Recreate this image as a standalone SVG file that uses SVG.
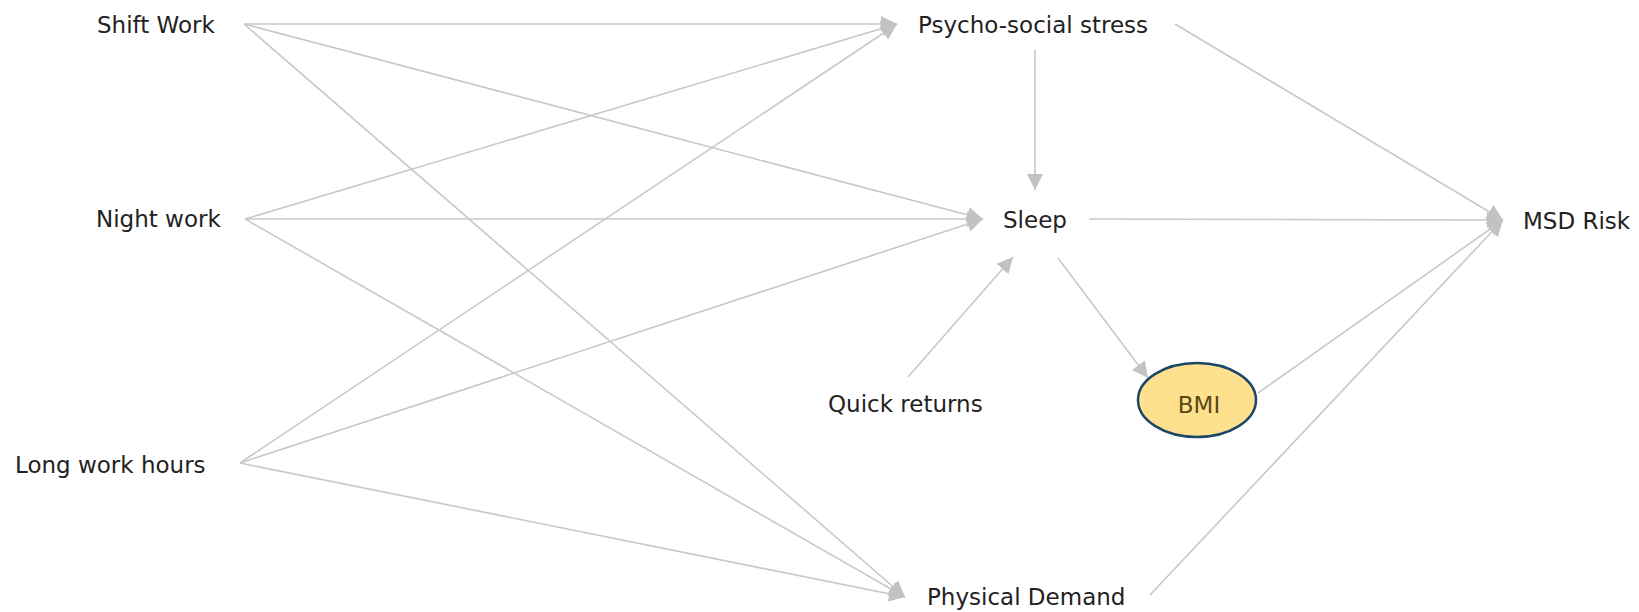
<svg xmlns="http://www.w3.org/2000/svg" width="1639" height="612" viewBox="0 0 1639 612">
<defs>
<style>
.lbl{font-family:"DejaVu Sans","Liberation Sans",sans-serif;font-size:23px;fill:#222}
.edge{stroke:#c8c8c8;stroke-width:1.6;fill:none}
</style>
<marker id="ah" markerUnits="userSpaceOnUse" markerWidth="18" markerHeight="16" refX="16" refY="8" orient="auto">
<path d="M0,0 L16,8 L0,16 Z" fill="#c2c2c2"/>
</marker>
</defs>
<rect width="1639" height="612" fill="#fff"/>
<g id="connectors">
<line class="edge" x1="244" y1="24" x2="897" y2="24" marker-end="url(#ah)"/>
<line class="edge" x1="244" y1="24" x2="983" y2="219" marker-end="url(#ah)"/>
<line class="edge" x1="244" y1="24" x2="905" y2="597" marker-end="url(#ah)"/>
<line class="edge" x1="245" y1="219" x2="897" y2="24" marker-end="url(#ah)"/>
<line class="edge" x1="245" y1="219" x2="983" y2="219" marker-end="url(#ah)"/>
<line class="edge" x1="245" y1="219" x2="905" y2="597" marker-end="url(#ah)"/>
<line class="edge" x1="240" y1="463" x2="897" y2="24" marker-end="url(#ah)"/>
<line class="edge" x1="240" y1="463" x2="983" y2="219" marker-end="url(#ah)"/>
<line class="edge" x1="240" y1="463" x2="905" y2="597" marker-end="url(#ah)"/>
<line class="edge" x1="1035" y1="50" x2="1035" y2="190" marker-end="url(#ah)"/>
<line class="edge" x1="1175" y1="24" x2="1503" y2="220" marker-end="url(#ah)"/>
<line class="edge" x1="1089" y1="219" x2="1503" y2="220" marker-end="url(#ah)"/>
<line class="edge" x1="1058" y1="258" x2="1148" y2="378" marker-end="url(#ah)"/>
<line class="edge" x1="908" y1="377" x2="1013" y2="257" marker-end="url(#ah)"/>
<line class="edge" x1="1258" y1="393" x2="1503" y2="220" marker-end="url(#ah)"/>
<line class="edge" x1="1150" y1="595" x2="1503" y2="220" marker-end="url(#ah)"/>
</g>
<g id="shift-work"><text class="lbl" x="97" y="33">Shift Work</text></g>
<g id="night-work"><text class="lbl" x="96" y="227">Night work</text></g>
<g id="long-work-hours"><text class="lbl" x="15" y="473">Long work hours</text></g>
<g id="psycho-social-stress"><text class="lbl" x="918" y="33">Psycho-social stress</text></g>
<g id="sleep"><text class="lbl" x="1003" y="228">Sleep</text></g>
<g id="msd-risk"><text class="lbl" x="1523" y="229">MSD Risk</text></g>
<g id="quick-returns"><text class="lbl" x="828" y="412">Quick returns</text></g>
<g id="bmi">
<ellipse cx="1197" cy="400" rx="59" ry="37" fill="#FFE08F" stroke="#1B4766" stroke-width="2.5"/>
<text class="lbl" x="1199" y="413" text-anchor="middle" style="fill:#5a4a12">BMI</text>
</g>
<g id="physical-demand"><text class="lbl" x="927" y="605">Physical Demand</text></g>
</svg>
